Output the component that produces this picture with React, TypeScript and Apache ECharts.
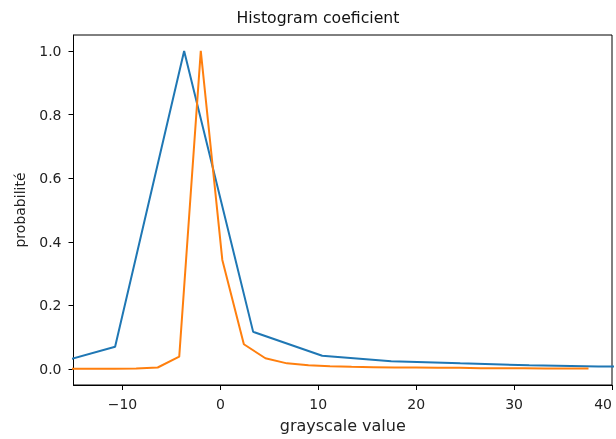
import React, { useEffect, useRef } from "react";
import * as echarts from "echarts";

const blueX = [-17.8, -10.75, -3.7, 3.35, 10.4, 17.45, 24.5, 31.55, 38.6, 45.65];
const blueY = [0.01, 0.07, 1.0, 0.117, 0.042, 0.025, 0.018, 0.012, 0.008, 0.007];

const orangeX = [-15.2, -13.0, -10.8, -8.6, -6.4, -4.2, -2.0, 0.2, 2.4, 4.6, 6.8, 9.0, 11.2, 13.4, 15.6, 17.8, 20.0, 22.2, 24.4, 26.6, 28.8, 31.0, 33.2, 35.4, 37.6];
const orangeY = [0.001, 0.001, 0.001, 0.002, 0.005, 0.039, 1.0, 0.343, 0.078, 0.034, 0.018, 0.012, 0.009, 0.007, 0.006, 0.005, 0.005, 0.004, 0.004, 0.003, 0.003, 0.003, 0.002, 0.002, 0.002];

const xTicks = [-10, 0, 10, 20, 30, 40];
const yTicks = [0, 0.2, 0.4, 0.6, 0.8, 1.0];

const titleText = "Histogram coeficient";
const xName = "grayscale value";
const yName = "probabilité";

const FONT = "DejaVu Sans";

export default function App() {
  const ref = useRef<HTMLDivElement>(null);
  useEffect(() => {
    if (!ref.current) return;
    const chart = echarts.init(ref.current, null, { renderer: "svg" });
    const zip = (xs: number[], ys: number[]) => xs.map((x, i) => [x, ys[i]]);
    chart.setOption({
      animation: false,
      title: {
        text: titleText,
        left: 313,
        textAlign: "center",
        top: 4,
        textStyle: { fontFamily: FONT, fontSize: 15.7, fontWeight: "normal", color: "#111" },
      },
      grid: {
        left: 73.5,
        right: 4,
        top: 35,
        bottom: 54,
        show: true,
        borderColor: "#000",
        borderWidth: 1,
        backgroundColor: "#fff",
        outerBoundsMode: "none",
        containLabel: false,
      },
      xAxis: {
        type: "value",
        min: -15,
        max: 40,
        splitLine: { show: false },
        axisLine: { show: true, onZero: false, lineStyle: { color: "#000", width: 1 } },
        axisTick: { show: true, length: 5, customValues: xTicks, lineStyle: { color: "#000" } },
        axisLabel: {
          customValues: xTicks,
          fontFamily: FONT,
          fontSize: 14,
          color: "#222",
          margin: 12,
          alignMaxLabel: "right",
          formatter: (v: number) => String(v).replace("-", "\u2212"),
        },
        name: xName,
        nameLocation: "middle",
        nameGap: 32,
        nameTextStyle: { fontFamily: FONT, fontSize: 16, color: "#222" },
      },
      yAxis: {
        type: "value",
        min: -0.05,
        max: 1.05,
        splitLine: { show: false },
        axisLine: { show: true, onZero: false, lineStyle: { color: "#000", width: 1 } },
        axisTick: { show: true, length: 5, customValues: yTicks, lineStyle: { color: "#000" } },
        axisLabel: {
          customValues: yTicks,
          fontFamily: FONT,
          fontSize: 14,
          color: "#222",
          margin: 12,
          formatter: (v: number) => v.toFixed(1),
        },
        name: yName,
        nameLocation: "middle",
        nameGap: 47,
        nameTextStyle: { fontFamily: FONT, fontSize: 14, color: "#222" },
      },
      series: [
        {
          type: "line",
          data: zip(blueX, blueY),
          showSymbol: false,
          clip: true,
          lineStyle: { color: "#1f77b4", width: 2 },
          itemStyle: { color: "#1f77b4" },
        },
        {
          type: "line",
          data: zip(orangeX, orangeY),
          showSymbol: false,
          clip: true,
          lineStyle: { color: "#ff7f0e", width: 2 },
          itemStyle: { color: "#ff7f0e" },
        },
      ],
    });
    return () => chart.dispose();
  }, []);
  return <div ref={ref} style={{ width: 616, height: 439, position: "fixed", left: 0, top: 0 }} />;
}
